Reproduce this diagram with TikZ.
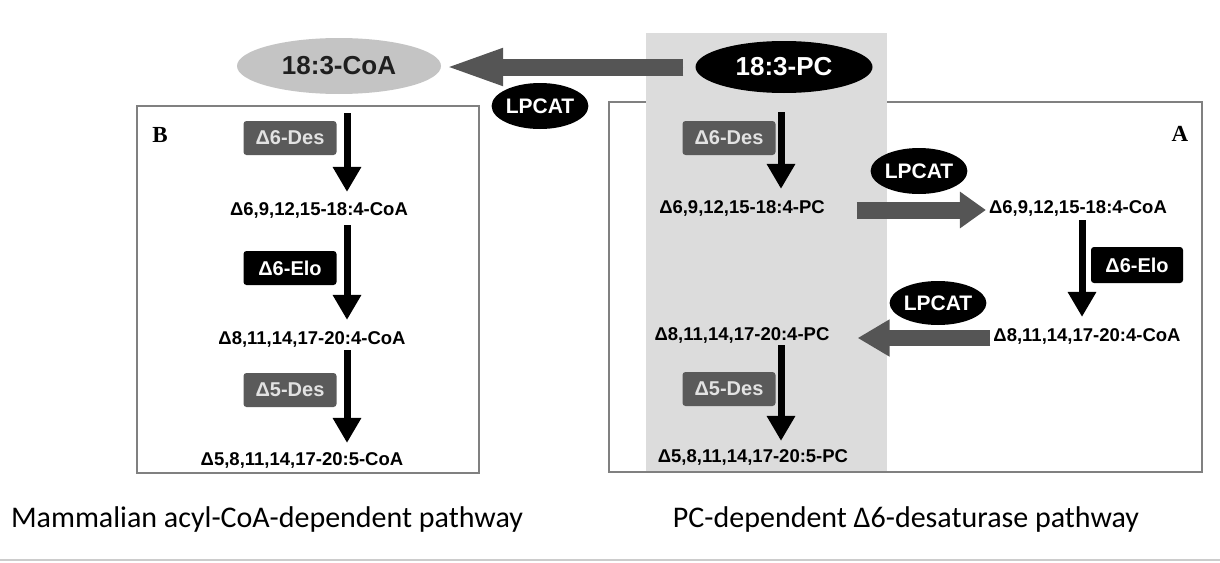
\documentclass[tikz,border=0pt]{standalone}
\usepackage{fontspec}
\setmainfont{Liberation Sans}
\newfontfamily\labserif{Liberation Serif}
\newfontfamily\capfont{Carlito}
\usetikzlibrary{shapes.geometric,arrows.meta}
\definecolor{colshade}{HTML}{DCDCDC}
\definecolor{frame}{HTML}{808080}
\definecolor{enzgray}{HTML}{5A5A5A}
\definecolor{arrowgray}{HTML}{555555}
\definecolor{coafill}{HTML}{C4C4C4}
\definecolor{enztext}{HTML}{E2E2E2}
\tikzset{
  fa/.style={font=\fontsize{18.5}{20}\selectfont\bfseries, inner sep=0pt, text=black},
  enz/.style={rounded corners=3pt, minimum width=93pt, minimum height=34pt, inner sep=0pt,
              font=\fontsize{20}{22}\selectfont\bfseries},
  desbox/.style={enz, fill=enzgray, text=enztext},
  elobox/.style={enz, fill=black, text=white},
  lpcat/.style={ellipse, fill=black, text=white, minimum width=84pt, minimum height=46pt,
                inner sep=0pt, font=\fontsize{21}{22}\selectfont\bfseries},
  bigell/.style={ellipse, inner sep=0pt, font=\fontsize{26}{28}\selectfont\bfseries},
  blk/.style={line width=7pt, -{Triangle[width=27pt,length=25pt]}},
  garrow/.style={draw=arrowgray, fill=arrowgray, line width=17pt},
  frm/.style={draw=frame, line width=1.5pt},
  boxlab/.style={font=\labserif\fontsize{23}{24}\selectfont\bfseries, inner sep=0pt},
  captext/.style={font=\capfont\fontsize{30}{32}\selectfont, inner sep=0pt},
}
\begin{document}
\begin{tikzpicture}[x=1pt,y=-1pt]
\useasboundingbox (0,0) rectangle (1220,562);
% frames and shaded column
\draw[frm] (137,106) rectangle (479,473);
\draw[frm] (609,102) rectangle (1202,472);
\fill[colshade] (646,33) rectangle (887,471);
% box labels
\node[boxlab] (labB) at (160,135) {B};
\node[boxlab] (labA) at (1180,134) {A};
% top ellipses
\node[bigell, fill=coafill, text=black!88, minimum width=204pt, minimum height=56pt] (coa) at (339,66) {18:3-CoA};
\node[bigell, fill=black, text=white, minimum width=177pt, minimum height=52pt] (pc) at (784,67) {18:3-PC};
\node[lpcat] (lp0) at (540,106) {LPCAT};
% pathway B texts
\node[fa] (t1) at (319,210) {Δ6,9,12,15-18:4-CoA};
\node[fa] (t2) at (312,339) {Δ8,11,14,17-20:4-CoA};
\node[fa] (t3) at (302,460) {Δ5,8,11,14,17-20:5-CoA};
% pathway A texts
\node[fa] (p1) at (742,208) {Δ6,9,12,15-18:4-PC};
\node[fa] (c1) at (1078,208) {Δ6,9,12,15-18:4-CoA};
\node[fa] (c2) at (1087,336) {Δ8,11,14,17-20:4-CoA};
\node[fa] (p2) at (742,335) {Δ8,11,14,17-20:4-PC};
\node[fa] (p3) at (753,457) {Δ5,8,11,14,17-20:5-PC};
% enzyme boxes
\node[desbox] (bdes6) at (290,138) {Δ6-Des};
\node[elobox] (belo6) at (290,268) {Δ6-Elo};
\node[desbox] (bdes5) at (290,390) {Δ5-Des};
\node[desbox] (ades6) at (729,138) {Δ6-Des};
\node[elobox, minimum width=92pt, minimum height=36pt] (aelo6) at (1137,265) {Δ6-Elo};
\node[desbox] (ades5) at (729,389) {Δ5-Des};
\node[lpcat] (lp1) at (919,171) {LPCAT};
\node[lpcat, minimum height=44pt] (lp2) at (938,303) {LPCAT};
% anchor columns for black arrows
\coordinate (bx) at (347,113);
\coordinate (ax) at (781,112);
\coordinate (cx) at (1082,0);
% black arrows, chain B
\draw[blk, shorten >=10pt] (bx) -- (t1.north -| bx);
\draw[blk, shorten <=7pt, shorten >=11pt] (t1.south -| bx) -- (t2.north -| bx);
\draw[blk, shorten <=3pt, shorten >=9pt] (t2.south -| bx) -- (t3.north -| bx);
% black arrows, chain A
\draw[blk, shorten >=11pt] (ax) -- (p1.north -| ax);
\draw[blk, shorten <=4pt, shorten >=11pt] (c1.south -| cx) -- (c2.north -| cx);
\draw[blk, shorten <=2pt, shorten >=8pt] (p2.south -| ax) -- (p3.north -| ax);
% gray LPCAT arrows
\draw[garrow, -{Triangle[width=33pt,length=60pt]}, shorten <=12pt, shorten >=2pt] (pc.west) -- (coa.east |- pc.west);
\draw[garrow, -{Triangle[width=35pt,length=26pt]}, shorten <=32pt, shorten >=3pt] ([yshift=-2pt]p1.east) -- ([yshift=-2pt]c1.west);
\draw[garrow, line width=16pt, -{Triangle[width=35pt,length=32pt]}, shorten <=3pt, shorten >=28pt] ([yshift=-2pt]c2.west) -- ([yshift=-2pt]c2.west -| p2.east);
% captions
\node[captext] (cap1) at (267,519) {Mammalian acyl-CoA-dependent pathway};
\node[captext] (cap2) at (906,519) {PC-dependent Δ6-desaturase pathway};
% bottom rule
\draw[draw=black!20, line width=2pt] (0,560) -- (1220,560);
\end{tikzpicture}
\end{document}
